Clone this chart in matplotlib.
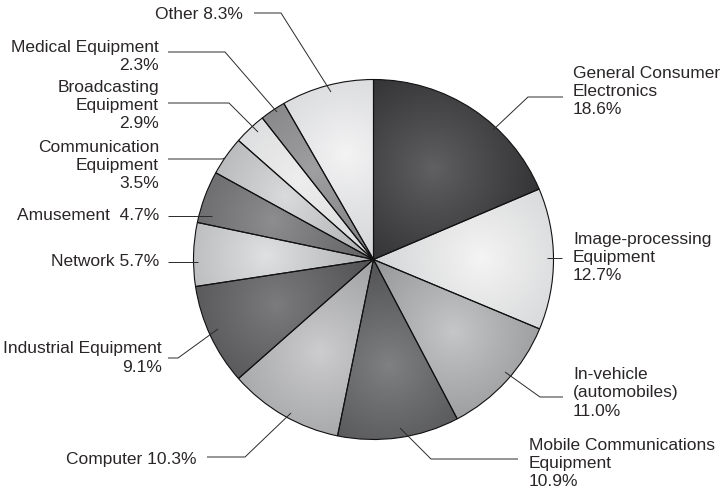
import numpy as np
import matplotlib
matplotlib.use("Agg")
import matplotlib.pyplot as plt
from matplotlib.colors import to_rgb

# shares (%) clockwise from 12 o'clock
labels = ["General Consumer\nElectronics", "Image-processing\nEquipment",
          "In-vehicle\n(automobiles)", "Mobile Communications\nEquipment",
          "Computer", "Industrial Equipment", "Network", "Amusement ",
          "Communication\nEquipment", "Broadcasting\nEquipment",
          "Medical Equipment", "Other"]
shares = [18.6, 12.7, 11.0, 10.9, 10.3, 9.1, 5.7, 4.7, 3.5, 2.9, 2.3, 8.3]
# one line or new line before the percentage
pct_sep = ["\n", "\n", "\n", "\n", " ", "\n", " ", " ", "\n", "\n", "\n", " "]

# (edge shade, highlight shade) per wedge
shades = [("#2a2a2c", "#616164"), ("#cdced0", "#f5f5f5"), ("#8b8c8e", "#c6c7c9"),
          ("#48484a", "#808183"), ("#97989a", "#cdcdcf"), ("#47474a", "#7c7c7e"),
          ("#a6a7a9", "#e0e1e3"), ("#58585a", "#8e8e90"), ("#a3a4a6", "#dadbdd"),
          ("#d3d4d6", "#eeeeee"), ("#78787a", "#a0a0a2"), ("#cdced0", "#f4f4f5")]

W, H = 721, 494
cx, cy, R = 373.5, H - 259.5, 180

# label layout in image pixels: text x, block centre y, alignment, leader points
layout = [
    (573, 91.7, "left",  [(563, 97), (528, 97), (493, 130)]),
    (573, 257.5, "left", [(562, 258), (547, 258)]),
    (573, 393, "left",   [(563, 397), (540, 397), (505, 372)]),
    (529, 463.5, "left", [(518, 459), (431, 459), (400, 428)]),
    (196, 459, "right",  [(207, 457), (245, 457), (291, 413)]),
    (162, 358, "right",  [(168, 358), (178, 358), (218, 329)]),
    (159, 262, "right",  [(168, 262), (198, 262)]),
    (159, 216, "right",  [(168, 216), (212, 216)]),
    (159, 165.5, "right", [(168, 159), (222, 159), (225, 158)]),
    (159, 105.5, "right", [(168, 103), (229, 103), (258, 132)]),
    (159, 56.5, "right", [(168, 52), (225, 52), (277, 112)]),
    (243, 15, "right",   [(254, 13), (281, 13), (331, 92)]),
]

plt.rcParams['font.family'] = ['Liberation Sans', 'DejaVu Sans']

fig = plt.figure(figsize=(W / 100, H / 100), dpi=100)
ax = fig.add_axes([0, 0, 1, 1])
wedges, _ = ax.pie(shares, startangle=90, counterclock=False,
                   center=(cx, cy), radius=R,
                   colors=[s[0] for s in shades],
                   wedgeprops=dict(edgecolor="#111111", linewidth=0.8))

# radial shading inside each wedge
n = 400
gx, gy = np.meshgrid(np.linspace(cx - R, cx + R, n), np.linspace(cy - R, cy + R, n))
for w, (c_edge, c_mid) in zip(wedges, shades):
    mid = np.deg2rad((w.theta1 + w.theta2) / 2)
    hx, hy = cx + 0.6 * R * np.cos(mid), cy + 0.6 * R * np.sin(mid)
    d = np.hypot(gx - hx, gy - hy) / (0.75 * R)
    t = np.clip(d, 0, 1) ** 0.9
    e, m = np.array(to_rgb(c_edge)), np.array(to_rgb(c_mid))
    img = m[None, None, :] * (1 - t[..., None]) + e[None, None, :] * t[..., None]
    im = ax.imshow(img, extent=(cx - R, cx + R, cy - R, cy + R), origin="lower",
                   interpolation="bilinear", zorder=1.5)
    im.set_clip_path(w)
    w.set_facecolor("none")
    w.set_zorder(2)

for lab, val, sep, (tx, ty, ha, pts) in zip(labels, shares, pct_sep, layout):
    ax.text(tx, H - ty, f"{lab}{sep}{val:.1f}%", ha=ha, va="center",
            multialignment=ha, fontsize=12.5, color="#2a2627", linespacing=1.26)
    xs = [p[0] for p in pts]
    ys = [H - p[1] for p in pts]
    ax.plot(xs, ys, color="#2a2a2a", lw=0.7, zorder=3, solid_capstyle="butt")

ax.set_xlim(0, W)
ax.set_ylim(0, H)
ax.set_aspect("equal")
ax.axis("off")
fig.savefig("out.png", dpi=100, facecolor="white")
